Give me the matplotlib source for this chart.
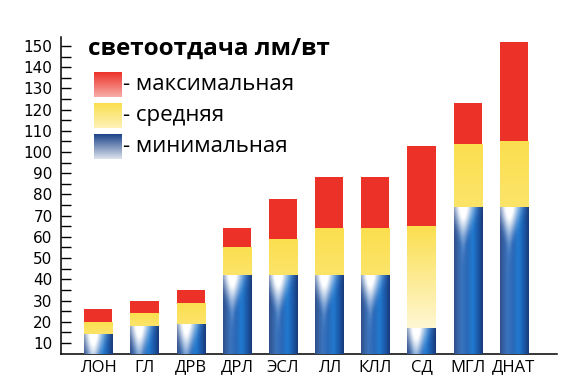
import numpy as np
import matplotlib
matplotlib.use('Agg')
import matplotlib.pyplot as plt
from matplotlib.colors import to_rgb

# данные: светоотдача лм/вт (мин / средняя / макс)
labels = ['ЛОН', 'ГЛ', 'ДРВ', 'ДРЛ', 'ЭСЛ', 'ЛЛ', 'КЛЛ', 'СД', 'МГЛ', 'ДНАТ']
min_eff = [14, 18, 19, 42, 42, 42, 42, 17, 74, 74]
avg_eff = [20, 24, 29, 55, 59, 64, 64, 65, 104, 105]
max_eff = [26, 30, 35, 64, 78, 88, 88, 103, 123, 152]

RED = '#ec3228'
YELLOW = '#fbdf4f'
BLUE_DARK = '#1c448a'
WIDTH = 0.61
Y0 = 4.8

plt.rcParams['font.family'] = ['Open Sans', 'DejaVu Sans']

fig = plt.figure(figsize=(5.8, 3.86), dpi=100)
ax = fig.add_axes([0.105, 0.083, 0.855, 0.82])

# горизонтальный профиль синего столбика
stops = [0.0, 0.25, 0.45, 0.65, 0.85, 1.0]
stop_cols = ['#30508c', '#3b74bd', '#2a68b8', '#2079cf', '#1b56a6', '#183a78']


def blue_image(h_units):
    nx, ny = 60, 160
    xx = np.linspace(0, 1, nx)
    cols = np.array([to_rgb(c) for c in stop_cols])
    prof = np.stack([np.interp(xx, stops, cols[:, k]) for k in range(3)], axis=-1)
    y = np.linspace(0, 1, ny)[:, None]   # 0 = верх
    depth = y * h_units
    img = np.broadcast_to(prof[None, :, :], (ny, nx, 3)).copy()
    # белый блик сверху слева
    x = xx[None, :]
    wid = 0.08 + 0.26 * np.clip(1 - depth / 18, 0, 1)
    glow = np.exp(-((x - 0.32) / wid) ** 2) * np.exp(-(depth / 13.0) ** 2)
    img = img + (1 - img) * np.clip(glow * 1.15, 0, 1)[..., None]
    return np.clip(img, 0, 1)


def fade_image(color, strength):
    ny = 100
    y = np.linspace(0, 1, ny)[:, None, None]
    c = np.array(to_rgb(color))[None, None, :]
    img = c + (1 - c) * y * strength
    return np.repeat(img, 2, axis=1)


xs = np.arange(len(labels))
lo = np.array(min_eff)
mid = np.array(avg_eff)
hi = np.array(max_eff)

bars_b = ax.bar(xs, lo - Y0, bottom=Y0, width=WIDTH, color=BLUE_DARK, zorder=2)
bars_y = ax.bar(xs, mid - lo, bottom=lo, width=WIDTH, color=YELLOW, zorder=2)
bars_r = ax.bar(xs, hi - mid, bottom=mid, width=WIDTH, color=RED, zorder=2)

for i, x in enumerate(xs):
    x0, x1 = x - WIDTH / 2, x + WIDTH / 2
    im = ax.imshow(blue_image(lo[i] - Y0), extent=(x0, x1, Y0, lo[i]),
                   aspect='auto', zorder=3, interpolation='bilinear')
    im.set_clip_path(bars_b[i])
    s = 0.75 if labels[i] == 'СД' else 0.15
    im = ax.imshow(fade_image(YELLOW, s), extent=(x0, x1, lo[i], mid[i]),
                   aspect='auto', zorder=3, interpolation='bilinear')
    im.set_clip_path(bars_y[i])

ax.set_xlim(-0.812, 9.93)
ax.set_ylim(Y0, 154)
ax.set_xticks(xs)
ax.set_xticklabels(labels, fontsize=12)
ax.tick_params(axis='x', length=0, pad=4)
ax.set_yticks(np.arange(10, 151, 10))
ax.set_yticks(np.arange(15, 155, 10), minor=True)
ax.tick_params(axis='y', which='both', direction='in', length=7.5, width=1,
               labelsize=11, pad=6)
for lab in ax.get_yticklabels():
    lab.set_family(['DejaVu Sans'])
for s in ['top', 'right']:
    ax.spines[s].set_visible(False)
for s in ['left', 'bottom']:
    ax.spines[s].set_linewidth(1.1)

# заголовок и легенда
fig.text(88 / 580, 1 - 49 / 386, 'светоотдача лм/вт', fontsize=17.5,
         fontweight='bold', va='center', ha='left')
legend_items = [(RED, '- максимальная', 72), (YELLOW, '- средняя', 103),
                (BLUE_DARK, '- минимальная', 134)]
for col, txt, ytop in legend_items:
    lax = fig.add_axes([94 / 580, 1 - (ytop + 25) / 386, 28 / 580, 25 / 386])
    lax.imshow(fade_image(col, 0.6 if col != BLUE_DARK else 0.85),
               extent=(0, 1, 0, 1), aspect='auto', interpolation='bilinear')
    lax.axis('off')
    fig.text(123 / 580, 1 - (ytop + 13) / 386, txt, fontsize=16,
             va='center', ha='left')

fig.savefig('out.png', dpi=100)
